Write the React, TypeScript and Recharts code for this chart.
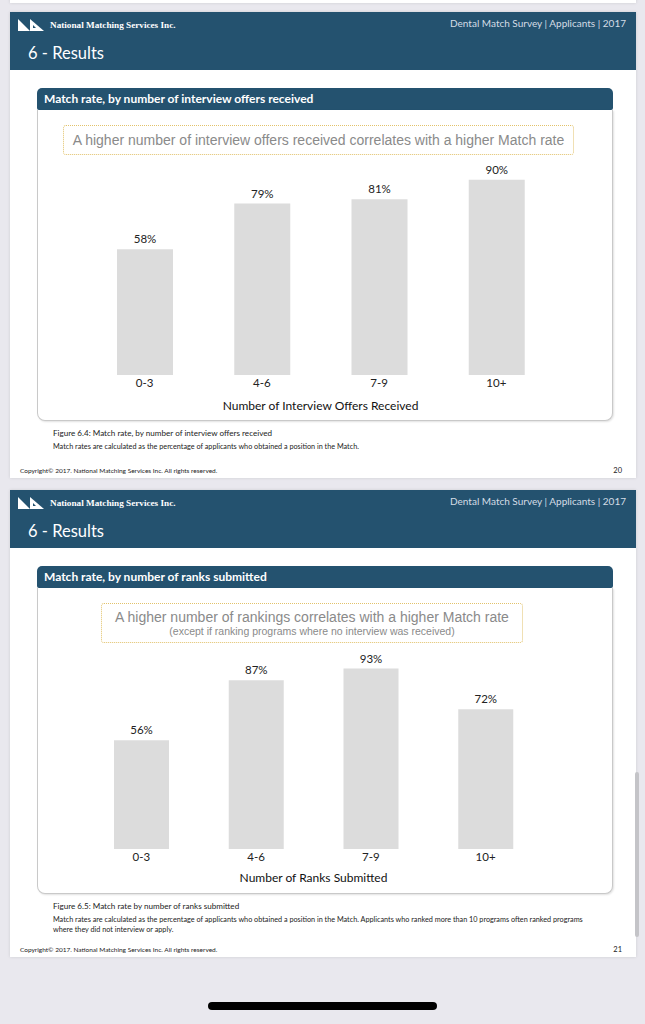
import React from "react";
import { BarChart, Bar, XAxis, YAxis, LabelList } from "recharts";

const offerCategories = ["0-3", "4-6", "7-9", "10+"];
const offerMatchRates = [58, 79, 81, 90];
const rankCategories = ["0-3", "4-6", "7-9", "10+"];
const rankMatchRates = [56, 87, 93, 72];

const BLUE = "#24526f";
const BAR = "#dcdcdc";
const SANS = "Lato, 'Noto Sans', sans-serif";

const offerData = offerCategories.map((c, i) => ({ cat: c, rate: offerMatchRates[i] }));
const rankData = rankCategories.map((c, i) => ({ cat: c, rate: rankMatchRates[i] }));

const Tick = (props: any) => {
  const { x, y, payload } = props;
  return (
    <text x={x} y={y} dy={12} textAnchor="middle" fill="#222" fontSize={11.5} fontFamily={SANS}>
      {payload.value}
    </text>
  );
};

const Logo = ({ x, y }: { x: number; y: number }) => (
  <svg style={{ position: "absolute", left: x, top: y }} width={28} height={12}>
    <polygon points="0,0 0,12 12,12" fill="#fff" />
    <polygon points="12,0 12,12 26,12" fill="#fff" />
    <polygon points="15,6 15,9 18,9" fill={BLUE} />
  </svg>
);

type ChartProps = {
  data: { cat: string; rate: number }[];
  width: number;
  height: number;
  margin: { top: number; right: number; bottom: number; left: number };
  barSize: number;
  axisLabel: string;
  axisHeight: number;
  labelOffset: number;
};

const Chart = ({ data, width, height, margin, barSize, axisLabel, axisHeight, labelOffset }: ChartProps) => (
  <BarChart width={width} height={height} data={data} margin={margin} barCategoryGap={0}>
    <XAxis
      dataKey="cat"
      axisLine={false}
      tickLine={false}
      tickSize={0}
      tickMargin={0}
      height={axisHeight}
      tick={<Tick />}
      interval={0}
      label={{
        value: axisLabel,
        position: "insideBottom",
        offset: labelOffset,
        fill: "#111",
        fontSize: 12,
        fontFamily: SANS,
      }}
    />
    <YAxis hide domain={[0, 100]} />
    <Bar dataKey="rate" fill={BAR} barSize={barSize} isAnimationActive={false}>
      <LabelList
        dataKey="rate"
        position="top"
        offset={6}
        formatter={(v: any) => `${v}%`}
        fill="#222"
        fontSize={11.5}
        fontFamily={SANS}
      />
    </Bar>
  </BarChart>
);

type SlideProps = {
  top: number;
  height: number;
  sectionTitle: string;
  cardHeight: number;
  noteBox: { left: number; top: number; width: number; height: number };
  noteLines: string[];
  chart: React.ReactNode;
  figCaption: string;
  notes: string[];
  page: string;
};

const Slide = ({ top, height, sectionTitle, cardHeight, noteBox, noteLines, chart, figCaption, notes, page }: SlideProps) => (
  <div
    style={{
      position: "absolute",
      left: 10,
      top,
      width: 626,
      height,
      background: "#fff",
      boxShadow: "0 0 3px rgba(0,0,0,0.12)",
      fontFamily: SANS,
    }}
  >
    <div style={{ position: "absolute", left: 0, top: 0, width: 626, height: 58, background: BLUE }}>
      <Logo x={8} y={7} />
      <div
        style={{
          position: "absolute",
          left: 40,
          top: 7,
          color: "#fff",
          fontFamily: "'Liberation Serif', 'DejaVu Serif', serif",
          fontWeight: "bold",
          fontSize: 9.2,
          lineHeight: "13px",
          whiteSpace: "nowrap",
        }}
      >
        National Matching Services Inc.
      </div>
      <div
        style={{
          position: "absolute",
          right: 10,
          top: 4,
          color: "#d4dde6",
          fontSize: 10,
          lineHeight: "14px",
          whiteSpace: "nowrap",
        }}
      >
        Dental Match Survey | Applicants | 2017
      </div>
      <div
        style={{
          position: "absolute",
          left: 18,
          top: 30,
          color: "#fff",
          fontSize: 16.5,
          lineHeight: "22px",
          whiteSpace: "nowrap",
        }}
      >
        6 - Results
      </div>
    </div>
    {/* section bar */}
    <div
      style={{
        position: "absolute",
        left: 27,
        top: 76,
        width: 576,
        height: 22,
        background: BLUE,
        borderRadius: "5px 5px 2px 2px",
        color: "#fff",
        fontWeight: "bold",
        fontSize: 12,
        lineHeight: "22px",
        paddingLeft: 7,
        boxSizing: "border-box",
        whiteSpace: "nowrap",
      }}
    >
      {sectionTitle}
    </div>
    {/* card */}
    <div
      style={{
        position: "absolute",
        left: 27,
        top: 98,
        width: 576,
        height: cardHeight,
        boxSizing: "border-box",
        border: "1px solid #c9c9c9",
        borderTop: "none",
        borderRadius: "0 0 8px 8px",
        boxShadow: "1px 1px 2px rgba(0,0,0,0.12)",
        background: "#fff",
      }}
    >
      <div style={{ position: "absolute", left: 0, top: 0 }}>{chart}</div>
      <div
        style={{
          position: "absolute",
          left: noteBox.left,
          top: noteBox.top,
          width: noteBox.width,
          height: noteBox.height,
          boxSizing: "border-box",
          border: "1.5px dotted #e2c26a",
          borderRadius: 3,
          background: "#fff",
          display: "flex",
          flexDirection: "column",
          alignItems: "center",
          justifyContent: "center",
          fontFamily: "'Liberation Sans', Arial, sans-serif",
          color: "#8a8a8a",
        }}
      >
        <div style={{ fontSize: 14, lineHeight: "16px", whiteSpace: "nowrap" }}>{noteLines[0]}</div>
        {noteLines[1] ? (
          <div style={{ fontSize: 10.5, lineHeight: "13px", whiteSpace: "nowrap" }}>{noteLines[1]}</div>
        ) : null}
      </div>
    </div>
    <div
      style={{
        position: "absolute",
        left: 43,
        top: 98 + cardHeight + 7,
        fontSize: 8.1,
        color: "#222",
        lineHeight: "11px",
        whiteSpace: "nowrap",
      }}
    >
      {figCaption}
    </div>
    <div
      style={{
        position: "absolute",
        left: 43,
        top: 98 + cardHeight + 21,
        fontSize: 7.25,
        color: "#222",
        lineHeight: "10px",
        whiteSpace: "nowrap",
      }}
    >
      {notes.map((n, i) => (
        <div key={i}>{n}</div>
      ))}
    </div>
    <div
      style={{
        position: "absolute",
        left: 10,
        bottom: 3,
        fontSize: 6.5,
        color: "#222",
        lineHeight: "9px",
        whiteSpace: "nowrap",
      }}
    >
      Copyright© 2017. National Matching Services Inc. All rights reserved.
    </div>
    <div
      style={{
        position: "absolute",
        right: 14,
        bottom: 3,
        fontSize: 7.5,
        color: "#222",
        lineHeight: "9px",
      }}
    >
      {page}
    </div>
  </div>
);

export default function App() {
  return (
    <div
      style={{
        position: "absolute",
        left: 0,
        top: 0,
        width: 645,
        height: 1024,
        background: "#e9e8ee",
        overflow: "hidden",
      }}
    >
      <div
        style={{
          position: "absolute",
          left: 10,
          top: -20,
          width: 626,
          height: 23,
          background: "#fff",
          boxShadow: "0 0 3px rgba(0,0,0,0.12)",
        }}
      />
      <Slide
        top={12}
        height={466}
        sectionTitle="Match rate, by number of interview offers received"
        cardHeight={311}
        noteBox={{ left: 25, top: 15, width: 511, height: 30 }}
        noteLines={["A higher number of interview offers received correlates with a higher Match rate"]}
        chart={
          <Chart
            data={offerData}
            width={576}
            height={311}
            margin={{ top: 48, right: 59, bottom: 0, left: 48 }}
            barSize={56}
            axisLabel="Number of Interview Offers Received"
            axisHeight={46}
            labelOffset={11}
          />
        }
        figCaption="Figure 6.4: Match rate, by number of interview offers received"
        notes={["Match rates are calculated as the percentage of applicants who obtained a position in the Match."]}
        page="20"
      />
      <Slide
        top={490}
        height={467}
        sectionTitle="Match rate, by number of ranks submitted"
        cardHeight={306}
        noteBox={{ left: 63, top: 15, width: 422, height: 40 }}
        noteLines={[
          "A higher number of rankings correlates with a higher Match rate",
          "(except if ranking programs where no interview was received)",
        ]}
        chart={
          <Chart
            data={rankData}
            width={576}
            height={306}
            margin={{ top: 67, right: 71, bottom: 0, left: 46 }}
            barSize={55}
            axisLabel="Number of Ranks Submitted"
            axisHeight={45}
            labelOffset={12}
          />
        }
        figCaption="Figure 6.5: Match rate by number of ranks submitted"
        notes={[
          "Match rates are calculated as the percentage of applicants who obtained a position in the Match. Applicants who ranked more than 10 programs often ranked programs",
          "where they did not interview or apply.",
        ]}
        page="21"
      />
      <div
        style={{
          position: "absolute",
          left: 635,
          top: 772,
          width: 4,
          height: 165,
          borderRadius: 2,
          background: "#c4c4c8",
        }}
      />
      <div
        style={{
          position: "absolute",
          left: 208,
          top: 1002,
          width: 229,
          height: 8,
          borderRadius: 4,
          background: "#000",
        }}
      />
    </div>
  );
}
